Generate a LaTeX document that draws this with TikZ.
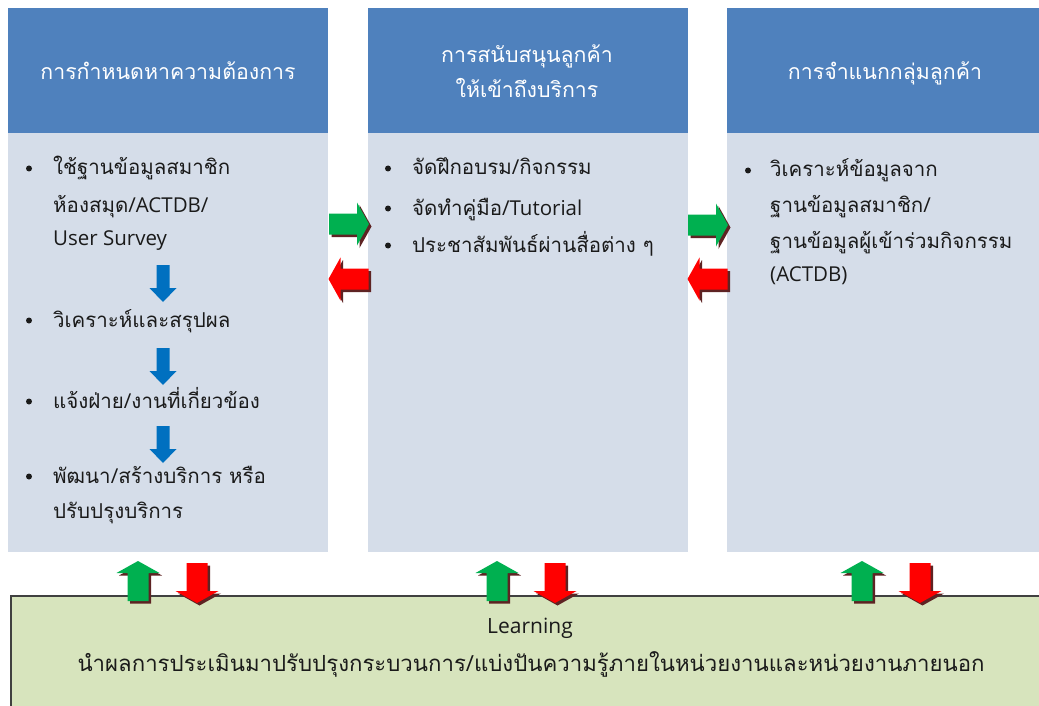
\documentclass[tikz,border=0pt]{standalone}
\usepackage{fontspec}
\setmainfont[Script=Thai]{Loma}
\newfontfamily\lat{Open Sans}
\definecolor{hdr}{HTML}{4F81BD}
\definecolor{bodyc}{HTML}{D5DDE9}
\definecolor{learn}{HTML}{D7E4BD}
\definecolor{agreen}{HTML}{00B050}
\definecolor{ared}{HTML}{FF0000}
\definecolor{ablue}{HTML}{0070C0}
\definecolor{ashadow}{HTML}{5E2323}
\definecolor{txt}{HTML}{1A1A1A}
\tikzset{
  hdrbox/.style={fill=hdr, draw=none, anchor=north west, minimum width=320pt, minimum height=125pt, inner sep=0pt},
  bodybox/.style={fill=bodyc, draw=none, anchor=north west, minimum width=320pt, minimum height=419pt, inner sep=0pt},
  hdrtext/.style={text=white, font=\fontsize{21.3}{34}\selectfont, anchor=base, inner sep=0pt},
  bodytext/.style={text=txt, font=\fontsize{20.5}{34}\selectfont, anchor=base west, inner sep=0pt},
  bul/.style={fill=txt},
}
% block arrow centred at (#1,#2), pointing to angle #3, colour #4
\newcommand\blkarrow[4]{%
  \begin{scope}[shift={(#1+2.5,#2+2.5)}, rotate=#3]
    \fill[ashadow] (-20,-10.5) -- (8,-10.5) -- (8,-21.5) -- (20,0) -- (8,21.5) -- (8,10.5) -- (-20,10.5) -- cycle;
  \end{scope}
  \begin{scope}[shift={(#1,#2)}, rotate=#3]
    \fill[#4] (-20,-10.5) -- (8,-10.5) -- (8,-21.5) -- (20,0) -- (8,21.5) -- (8,10.5) -- (-20,10.5) -- cycle;
  \end{scope}}
% blue down arrow centred at (#1,#2)
\newcommand\bluedown[2]{%
  \fill[ablue] (#1-6.5,#2-18.5) -- (#1+6.5,#2-18.5) -- (#1+6.5,#2+4.5) -- (#1+13.5,#2+4.5)
     -- (#1,#2+18.5) -- (#1-13.5,#2+4.5) -- (#1-6.5,#2+4.5) -- cycle;}
% bullet left of baseline y=#2
\newcommand\bulletat[2]{\fill[bul] (#1,#2-6.5) circle (3pt);}
\begin{document}
\begin{tikzpicture}[x=1pt,y=-1pt]
\useasboundingbox (0,0) rectangle (1039,706);
\clip (0,0) rectangle (1039,706);
\fill[white] (0,0) rectangle (1039,706);

% columns
\node[bodybox] (b1) at (8,133) {};
\node[bodybox] (b2) at (368,133) {};
\node[bodybox] (b3) at (727,133) {};
\node[hdrbox] (h1) at (8,8) {};
\node[hdrbox] (h2) at (368,8) {};
\node[hdrbox] (h3) at (727,8) {};

% header texts
\node[hdrtext] (t1) at (168,80) {การกำหนดหาความต้องการ};
\node[hdrtext] (t2a) at (527,63) {การสนับสนุนลูกค้า};
\node[hdrtext] (t2b) at (527,98) {ให้เข้าถึงบริการ};
\node[hdrtext] (t3) at (885,80) {การจำแนกกลุ่มลูกค้า};

% column 1 body
\bulletat{29}{175}
\node[bodytext] (c1a) at (53,175) {ใช้ฐานข้อมูลสมาชิก};
\node[bodytext] (c1b) at (53,212) {ห้องสมุด{\lat/ACTDB/}};
\node[bodytext] (c1c) at (53,245) {\lat User Survey};
\bulletat{29}{327}
\node[bodytext] (c1d) at (53,327) {วิเคราะห์และสรุปผล};
\bulletat{29}{408}
\node[bodytext] (c1e) at (53,408) {แจ้งฝ่าย{\lat/}งานที่เกี่ยวข้อง};
\bulletat{29}{483}
\node[bodytext] (c1f) at (53,483) {พัฒนา{\lat/}สร้างบริการ หรือ};
\node[bodytext] (c1g) at (53,518) {ปรับปรุงบริการ};

\bluedown{163}{283.5}
\bluedown{163}{366.5}
\bluedown{163}{444.5}

% column 2 body
\bulletat{388}{175}
\node[bodytext] (c2a) at (412,175) {จัดฝึกอบรม{\lat/}กิจกรรม};
\bulletat{388}{215}
\node[bodytext] (c2b) at (412,215) {จัดทำคู่มือ{\lat/Tutorial}};
\bulletat{388}{252}
\node[bodytext] (c2c) at (412,252) {ประชาสัมพันธ์ผ่านสื่อต่าง ๆ};

% column 3 body
\bulletat{748}{177}
\node[bodytext] (c3a) at (770,177) {วิเคราะห์ข้อมูลจาก};
\node[bodytext] (c3b) at (770,212) {ฐานข้อมูลสมาชิก{\lat/}};
\node[bodytext] (c3c) at (770,248) {ฐานข้อมูลผู้เข้าร่วมกิจกรรม};
\node[bodytext] (c3d) at (770,281) {\lat(ACTDB)};

% horizontal arrows
\blkarrow{349}{224}{0}{agreen}
\blkarrow{348.5}{279}{180}{ared}
\blkarrow{708}{225}{0}{agreen}
\blkarrow{707.5}{279}{180}{ared}

% learning box
\node[fill=learn, draw=black!75, line width=1.5pt, anchor=north west, minimum width=1050pt, minimum height=130pt, inner sep=0pt] (lb) at (10,595) {};
\node[text=txt, font=\lat\fontsize{21}{24}\selectfont, anchor=base, inner sep=0pt] (lt1) at (530,633) {Learning};
\node[text=txt, font=\fontsize{22.2}{24}\selectfont, anchor=base, inner sep=0pt] (lt2) at (531,671) {นำผลการประเมินมาปรับปรุงกระบวนการ{\lat/}แบ่งปันความรู้ภายในหน่วยงานและหน่วยงานภายนอก};

% vertical arrows
\blkarrow{138}{581}{90}{agreen}
\blkarrow{197}{583}{270}{ared}
\blkarrow{497}{581}{90}{agreen}
\blkarrow{555}{583}{270}{ared}
\blkarrow{862}{581}{90}{agreen}
\blkarrow{920}{583}{270}{ared}
\end{tikzpicture}
\end{document}
